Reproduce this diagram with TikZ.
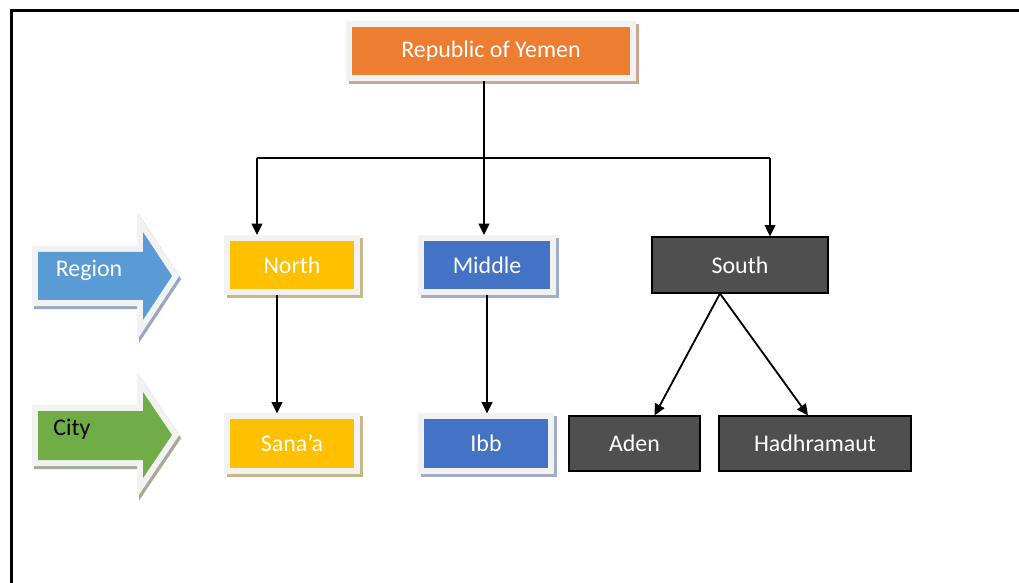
\documentclass[tikz,border=0pt]{standalone}
\usepackage{fontspec}
\setmainfont{Carlito}
\usetikzlibrary{arrows.meta}
\definecolor{rim}{HTML}{F2F2F2}
\definecolor{orangeY}{HTML}{ED7D31}
\definecolor{yellowY}{HTML}{FFC000}
\definecolor{blueY}{HTML}{4472C4}
\definecolor{darkY}{HTML}{4F4F4F}
\definecolor{regionC}{HTML}{5B9BD5}
\definecolor{cityC}{HTML}{70AD47}
\definecolor{orangeS}{HTML}{C9A794}
\definecolor{yellowS}{HTML}{C9B58A}
\definecolor{blueS}{HTML}{A2AEC6}
\definecolor{regionS}{HTML}{95A9C4}
\definecolor{cityS}{HTML}{A3AC95}
\tikzset{
    RB/.style 2 args ={rectangle, minimum height=1.2cm, fill=#1, text=white, outer sep=0.15cm,
        preaction={draw=#2, line width=0.3cm, transform canvas={shift={(0.075cm,-0.075cm)}}},
        preaction={draw=rim, line width=0.3cm}},
    DB/.style ={rectangle, minimum height=1.375cm, fill=darkY, draw=black, line width=0.8pt, text=white},
    BA/.style 2 args ={fill=#1,
        preaction={draw=#2, line width=0.3cm, transform canvas={shift={(0.05cm,-0.075cm)}}},
        preaction={draw=rim, line width=0.3cm}},
    AR/.style ={-{Triangle[length=8pt,width=7.5pt]}, line width=1.3pt}}

\begin{document}
\begin{tikzpicture}[x=0.025cm, y=-0.025cm,
        every node/.style={font=\fontsize{17}{20}\selectfont}]
    \useasboundingbox (0,0) rectangle (1019,583);
    \draw[line width=1.5pt] (11.5,583) -- (11.5,10.5) -- (1019,10.5);

    % side arrows
    \path[BA={regionC}{regionS}] (38,252) -- (143,252) -- (143,232) -- (172,276)
        -- (143,320) -- (143,300) -- (38,300) -- cycle;
    \path[BA={cityC}{cityS}] (38,411) -- (143,411) -- (143,392) -- (172,435)
        -- (143,478) -- (143,460) -- (38,460) -- cycle;
    \node[text=white] (region) at (89,270) {Region};
    \node[text=black] (city) at (72,429) {City};

    % boxes
    \node[RB={orangeY}{orangeS}, minimum width=6.95cm] (yemen) at (491,51) {Republic of Yemen};
    \node[RB={yellowY}{yellowS}, minimum width=3.1cm] (north) at (292,265) {North};
    \node[RB={blueY}{blueS}, minimum width=3.15cm] (middle) at (487,265) {Middle};
    \node[DB, minimum width=4.4cm, minimum height=1.4cm] (south) at (740,265) {South};
    \node[RB={yellowY}{yellowS}, minimum width=3.1cm] (sanaa) at (292,443.5) {Sana’a};
    \node[RB={blueY}{blueS}, minimum width=3.1cm] (ibb) at (486,443.5) {Ibb};
    \node[DB, minimum width=3.275cm] (aden) at (634.5,443.5) {Aden};
    \node[DB, minimum width=4.8cm] (hadh) at (815,443.5) {Hadhramaut};

    % connectors
    \coordinate (J) at (484,158);
    \coordinate (L) at (257,158);
    \coordinate (R) at (770,158);
    \draw[line width=1.3pt] (J |- yemen.south) -- (J);
    \draw[line width=1.3pt] (L) -- (R);
    \draw[AR] (L) -- (L |- north.north);
    \draw[AR] (J) -- (J |- middle.north);
    \draw[AR] (R) -- (R |- south.north);
    \draw[AR] ([xshift=-0.375cm]north.south) -- ([xshift=-0.375cm]north.south |- sanaa.north);
    \draw[AR] (middle.south) -- (middle.south |- ibb.north);
    \draw[AR] ([xshift=-0.5cm]south.south) -- ([xshift=0.5cm]aden.north);
    \draw[AR] ([xshift=-0.5cm]south.south) -- ([xshift=-0.175cm]hadh.north);
\end{tikzpicture}
\end{document}
